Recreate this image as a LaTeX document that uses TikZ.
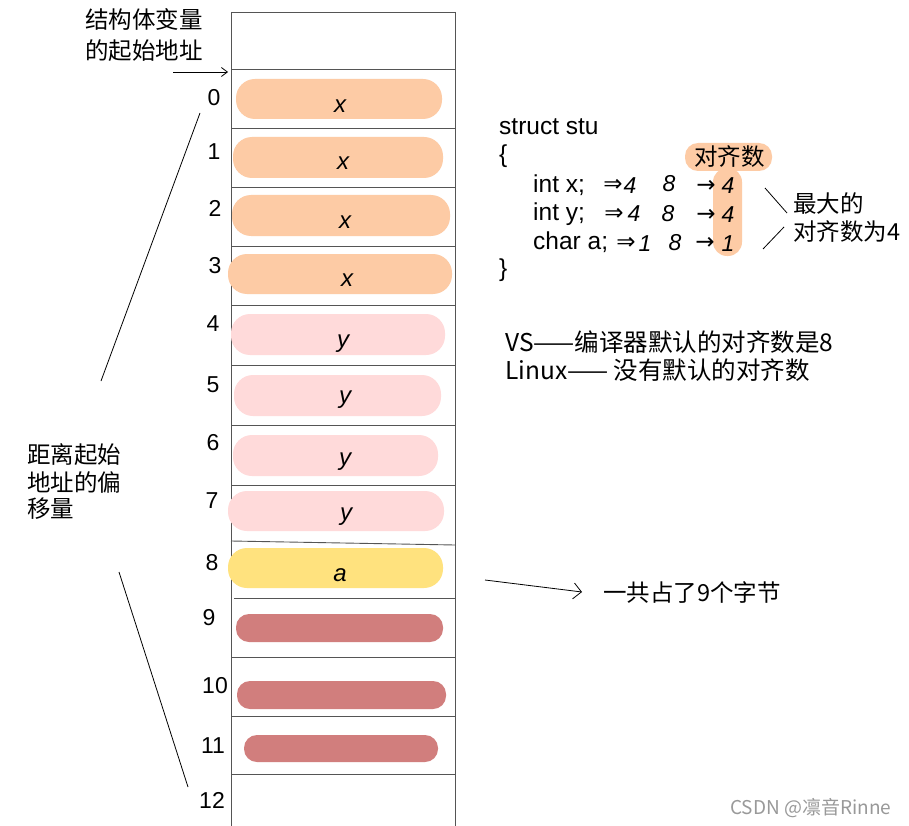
\documentclass[tikz,border=0pt]{standalone}
\usepackage{fontspec}
\setmainfont{Liberation Sans}
\newfontfamily\cjk{Noto Sans CJK SC}
\newfontfamily\symf{DejaVu Sans}
\usetikzlibrary{arrows.meta}
\definecolor{peach}{HTML}{FDCBA5}
\definecolor{pinkc}{HTML}{FFDADA}
\definecolor{yel}{HTML}{FFE27E}
\definecolor{rose}{HTML}{D17E7D}
\definecolor{gridc}{HTML}{555555}
\begin{document}
\begin{tikzpicture}[x=1pt,y=-1pt,
  pill/.style={rectangle,draw=none,inner sep=0pt,rounded corners=19pt},
  thin pill/.style={rectangle,draw=none,inner sep=0pt,rounded corners=13pt},
  hand/.style={font=\fontsize{24}{28}\selectfont\itshape\rmfamily,inner sep=0pt},
  lbl/.style={font=\fontsize{23}{26}\selectfont,inner sep=0pt},
  txt/.style={font=\fontsize{23.5}{27}\selectfont\cjk,inner sep=0pt,anchor=west},
  code/.style={font=\fontsize{24.5}{28}\selectfont,inner sep=0pt,anchor=west},
  hnum/.style={font=\fontsize{23}{26}\selectfont\itshape,inner sep=0pt},
  harr/.style={font=\fontsize{23}{26}\selectfont\symf,inner sep=0pt},
  grid/.style={draw=gridc,line width=0.9pt}]
\useasboundingbox (0,0) rectangle (909,826);
\fill[white] (0,0) rectangle (909,826);

% column frame
\draw[grid] (231,12) -- (455,12);
\draw[grid] (231,12) -- (231,826);
\draw[grid] (455,12) -- (455,826);
\foreach \yy in {69,128,187,246,305,365,425,485} {\draw[grid] (231,\yy) -- (455,\yy);}
\draw[grid] (231,541) -- (455,545);
\draw[grid] (234,598) -- (455,598);
\foreach \yy in {657,716,774} {\draw[grid] (231,\yy) -- (455,\yy);}

% pills
\node[pill,fill=peach,minimum width=206pt,minimum height=40pt] (p0) at (339,99) {};
\node[pill,fill=peach,minimum width=210pt,minimum height=41pt] (p1) at (338,157.5) {};
\node[pill,fill=peach,minimum width=218pt,minimum height=41pt] (p2) at (341,215.5) {};
\node[pill,fill=peach,minimum width=224pt,minimum height=40pt] (p3) at (340,274) {};
\node[pill,fill=pinkc,minimum width=214pt,minimum height=41pt] (p4) at (338,334.5) {};
\node[pill,fill=pinkc,minimum width=207pt,minimum height=41pt] (p5) at (337.5,395.5) {};
\node[pill,fill=pinkc,minimum width=205pt,minimum height=41pt] (p6) at (335.5,455.5) {};
\node[pill,fill=pinkc,minimum width=216pt,minimum height=40pt] (p7) at (336,511) {};
\node[pill,fill=yel,minimum width=215pt,minimum height=40pt] (p8) at (335.5,568) {};
\node[thin pill,fill=rose,minimum width=207pt,minimum height=28pt] (p9) at (339.5,628) {};
\node[thin pill,fill=rose,minimum width=209pt,minimum height=28pt] (p10) at (341.5,695) {};
\node[thin pill,fill=rose,minimum width=194pt,minimum height=27pt] (p11) at (341,748.5) {};

% handwritten letters
\node[hand] (l0) at (340,106) {x};
\node[hand] (l1) at (343,163) {x};
\node[hand] (l2) at (345,222) {x};
\node[hand] (l3) at (347,280) {x};
\node[hand] (l4) at (343,344) {y};
\node[hand] (l5) at (345,400) {y};
\node[hand] (l6) at (345,462) {y};
\node[hand] (l7) at (346,517) {y};
\node[hand] (l8) at (340,575) {a};

% offsets
\node[lbl] (n0) at (214,98) {0};
\node[lbl] (n1) at (214,152) {1};
\node[lbl] (n2) at (215,208) {2};
\node[lbl] (n3) at (215,266) {3};
\node[lbl] (n4) at (213,324) {4};
\node[lbl] (n5) at (213,385) {5};
\node[lbl] (n6) at (213,443) {6};
\node[lbl] (n7) at (212,501) {7};
\node[lbl] (n8) at (212,563) {8};
\node[lbl] (n9) at (209,618) {9};
\node[lbl] (n10) at (215,686) {10};
\node[lbl] (n11) at (213,746) {11};
\node[lbl] (n12) at (212,800) {12};

% top-left label and arrow
\node[txt] (start1) at (85,19) {结构体变量};
\node[txt] (start2) at (85,51) {的起始地址};
\coordinate (arrS) at (173,72);
\coordinate (arrE) at (228,72);
\draw[line width=0.8pt,-{Straight Barb[length=6pt,width=9pt]}] (arrS) -- (arrE);

% offset label and lines
\node[txt] (off1) at (27,455) {距离起始};
\node[txt] (off2) at (27,482) {地址的偏};
\node[txt] (off3) at (27,509) {移量};
\coordinate (la) at (200,113);
\coordinate (lb) at (101,381);
\coordinate (lc) at (119,572);
\coordinate (ld) at (188,787);
\draw[line width=0.8pt] (la) -- (lb);
\draw[line width=0.8pt] (lc) -- (ld);

% code
\fill[peach,rounded corners=13pt] (685,143) rectangle (772,171);
\fill[peach,rounded corners=14pt] (713,168) rectangle (742,256);
\node[txt] (align) at (694,157) {对齐数};
\node[code] (c1) at (499,127) {struct stu};
\node[code] (c2) at (499,156) {\{};
\node[code] (c3) at (533,185) {int x;};
\node[code] (c4) at (533,214) {int y;};
\node[code] (c5) at (533,242) {char a;};
\node[code] (c6) at (499,270) {\}};

\node[harr] (dx) at (613,185) {⇒};
\node[hnum] (ax) at (630,186) {4};
\node[hnum] (bx) at (669,184) {8};
\node[harr] (ex) at (706,186) {→};
\node[hnum] (fx) at (728,186) {4};
\node[harr] (dy) at (614,214) {⇒};
\node[hnum] (ay) at (634,214) {4};
\node[hnum] (by) at (668,214) {8};
\node[harr] (ey) at (706,215) {→};
\node[hnum] (fy) at (728,215) {4};
\node[harr] (da) at (626,243) {⇒};
\node[hnum] (aa) at (645,244) {1};
\node[hnum] (ba) at (675,243) {8};
\node[harr] (ea) at (705,243) {→};
\node[hnum] (fa) at (728,244) {1};

\coordinate (s1a) at (765,188);
\coordinate (s1b) at (787,213);
\coordinate (s2a) at (763,249);
\coordinate (s2b) at (784,227);
\draw[line width=0.8pt] (s1a) -- (s1b);
\draw[line width=0.8pt] (s2a) -- (s2b);
\node[txt] (max1) at (793,204) {最大的};
\node[txt] (max2) at (793,232) {对齐数为4};

\node[txt,font=\fontsize{24.5}{28}\selectfont\cjk] (vs) at (505,342) {VS——编译器默认的对齐数是8};
\node[txt,font=\fontsize{24.5}{28}\selectfont\cjk] (lx) at (505,370) {Linux—— 没有默认的对齐数};

% total
\node[txt] (tot) at (603,592) {一共占了9个字节};
\coordinate (tA) at (485,580);
\draw[line width=0.8pt,-{Straight Barb[length=8pt,width=16pt]}] (tA) -- (tot.west -| 582,588);

% watermark
\node[txt,text=gray!80,font=\fontsize{19}{22}\selectfont\cjk] (wm) at (730,808) {CSDN @凛音Rinne};
\end{tikzpicture}
\end{document}
